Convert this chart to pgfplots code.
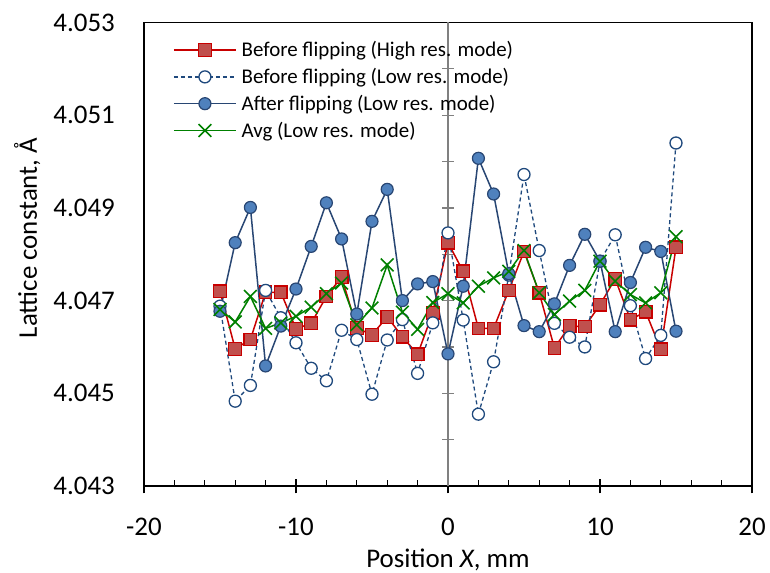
\documentclass[border=0pt]{standalone}
\usepackage{fontspec}
\setmainfont{Carlito}
\usepackage{pgfplots}
\pgfplotsset{compat=1.18}
\definecolor{redln}{RGB}{200,0,0}
\definecolor{redfill}{RGB}{192,80,77}
\definecolor{bluefill}{RGB}{79,129,189}
\definecolor{blueln}{RGB}{40,70,115}
\definecolor{openln}{RGB}{31,73,125}
\definecolor{greenln}{RGB}{0,128,0}
\begin{document}
\begin{tikzpicture}
\path[use as bounding box] (-144bp,-87bp) rectangle (626bp,486bp);
\begin{axis}[
  scale only axis, width=608bp, height=463.5bp,
  xmin=-20, xmax=20, ymin=4.043, ymax=4.053,
  xtick={-20,-10,0,10,20}, xtick pos=lower, xtick align=center,
  major tick length=15bp,
  extra x ticks={-18,-16,-14,-12,-8,-6,-4,-2,2,4,6,8,12,14,16,18},
  extra x tick labels={},
  extra x tick style={tick align=inside, major tick length=6.5bp},
  ytick={4.043,4.045,4.047,4.049,4.051,4.053}, ytick style={draw=none},
  scaled y ticks=false,
  tick style={black, line width=1.3bp},
  axis line style={black, line width=1.4bp},
  /pgf/number format/assume math mode=true,
  tick label style={font=\fontsize{27}{32}\selectfont},
  yticklabel style={/pgf/number format/.cd, fixed, fixed zerofill, precision=3, /tikz/.cd, inner sep=0pt, xshift=-29bp},
  xticklabel style={inner sep=0pt, anchor=north, yshift=-24bp},
  label style={font=\fontsize{27}{32}\selectfont},
  xlabel={Position \textit{X}, mm},
  xlabel style={at={(axis description cs:0.5,0)}, anchor=center, yshift=-74bp},
  ylabel={Lattice constant, Å},
  ylabel style={at={(axis description cs:-0.192,0.535)}, anchor=center},
  legend cell align=left,
  legend image code/.code={\draw[mark repeat=2,mark phase=2,#1] plot coordinates {(0bp,0bp) (31bp,0bp) (62bp,0bp)};},
  legend style={draw=none, fill=none, at={(axis description cs:0,1)}, anchor=north west,
    xshift=26bp, yshift=-12bp, font=\fontsize{21}{25}\selectfont, row sep=0bp,
    nodes={inner sep=5bp}, /tikz/every even column/.append style={column sep=3bp}},
]
% gray vertical axis at X = 0
\draw[gray, line width=1.3bp] (axis cs:0,4.043) -- (axis cs:0,4.053);
\draw[gray, line width=1.3bp]
  ([xshift=-6bp]axis cs:0,4.044) -- ([xshift=6bp]axis cs:0,4.044)
  ([xshift=-6bp]axis cs:0,4.045) -- ([xshift=6bp]axis cs:0,4.045)
  ([xshift=-6bp]axis cs:0,4.046) -- ([xshift=6bp]axis cs:0,4.046)
  ([xshift=-6bp]axis cs:0,4.047) -- ([xshift=6bp]axis cs:0,4.047)
  ([xshift=-6bp]axis cs:0,4.048) -- ([xshift=6bp]axis cs:0,4.048)
  ([xshift=-6bp]axis cs:0,4.049) -- ([xshift=6bp]axis cs:0,4.049)
  ([xshift=-6bp]axis cs:0,4.050) -- ([xshift=6bp]axis cs:0,4.050)
  ([xshift=-6bp]axis cs:0,4.051) -- ([xshift=6bp]axis cs:0,4.051)
  ([xshift=-6bp]axis cs:0,4.052) -- ([xshift=6bp]axis cs:0,4.052);

\addplot[redln, line width=1.5bp, mark=square*, mark size=6.3bp,
  mark options={solid, fill=redfill, draw=redln, line width=1.2bp}] coordinates {
(-15,4.04720) (-14,4.04596) (-13,4.04616) (-12,4.04718) (-11,4.04718) (-10,4.04639)
(-9,4.04651) (-8,4.04709) (-7,4.04751) (-6,4.04641) (-5,4.04626) (-4,4.04665)
(-3,4.04622) (-2,4.04584) (-1,4.04674) (0,4.04825) (1,4.04763) (2,4.04640)
(3,4.04640) (4,4.04722) (5,4.04806) (6,4.04717) (7,4.04598) (8,4.04645)
(9,4.04644) (10,4.04691) (11,4.04747) (12,4.04659) (13,4.04676) (14,4.04595) (15,4.04815)};
\addlegendentry{Before flipping (High res. mode)}

\addplot[openln, line width=1.3bp, dash pattern=on 4bp off 3bp, mark=*, mark size=6bp,
  mark options={solid, fill=white, draw=openln, line width=1.3bp}] coordinates {
(-15,4.04688) (-14,4.04483) (-13,4.04517) (-12,4.04722) (-11,4.04663) (-10,4.04609)
(-9,4.04554) (-8,4.04527) (-7,4.04636) (-6,4.04616) (-5,4.04498) (-4,4.04615)
(-3,4.04659) (-2,4.04543) (-1,4.04652) (0,4.04846) (1,4.04658) (2,4.04455)
(3,4.04568) (4,4.04755) (5,4.04972) (6,4.04808) (7,4.04651) (8,4.04621)
(9,4.04600) (10,4.04785) (11,4.04842) (12,4.04689) (13,4.04575) (14,4.04625) (15,4.05040)};
\addlegendentry{Before flipping (Low res. mode)}

\addplot[blueln, line width=1.5bp, mark=*, mark size=6bp,
  mark options={solid, fill=bluefill, draw=blueln, line width=1.2bp}] coordinates {
(-15,4.04677) (-14,4.04825) (-13,4.04901) (-12,4.04559) (-11,4.04645) (-10,4.04725)
(-9,4.04817) (-8,4.04911) (-7,4.04833) (-6,4.04671) (-5,4.04871) (-4,4.04940)
(-3,4.04700) (-2,4.04736) (-1,4.04741) (0,4.04585) (1,4.04731) (2,4.05007)
(3,4.04930) (4,4.04758) (5,4.04646) (6,4.04633) (7,4.04693) (8,4.04776)
(9,4.04843) (10,4.04785) (11,4.04633) (12,4.04739) (13,4.04815) (14,4.04806) (15,4.04634)};
\addlegendentry{After flipping (Low res. mode)}

\addplot[greenln, line width=1.5bp, mark=x, mark size=9bp,
  mark options={solid, line width=1.6bp}] coordinates {
(-15,4.04681) (-14,4.04654) (-13,4.04709) (-12,4.04640) (-11,4.04652) (-10,4.04666)
(-9,4.04686) (-8,4.04715) (-7,4.04738) (-6,4.04648) (-5,4.04684) (-4,4.04777)
(-3,4.04675) (-2,4.04638) (-1,4.04696) (0,4.04715) (1,4.04695) (2,4.04731)
(3,4.04749) (4,4.04763) (5,4.04808) (6,4.04717) (7,4.04670) (8,4.04699)
(9,4.04722) (10,4.04785) (11,4.04742) (12,4.04713) (13,4.04695) (14,4.04717) (15,4.04838)};
\addlegendentry{Avg (Low res. mode)}
\end{axis}
\end{tikzpicture}
\end{document}
